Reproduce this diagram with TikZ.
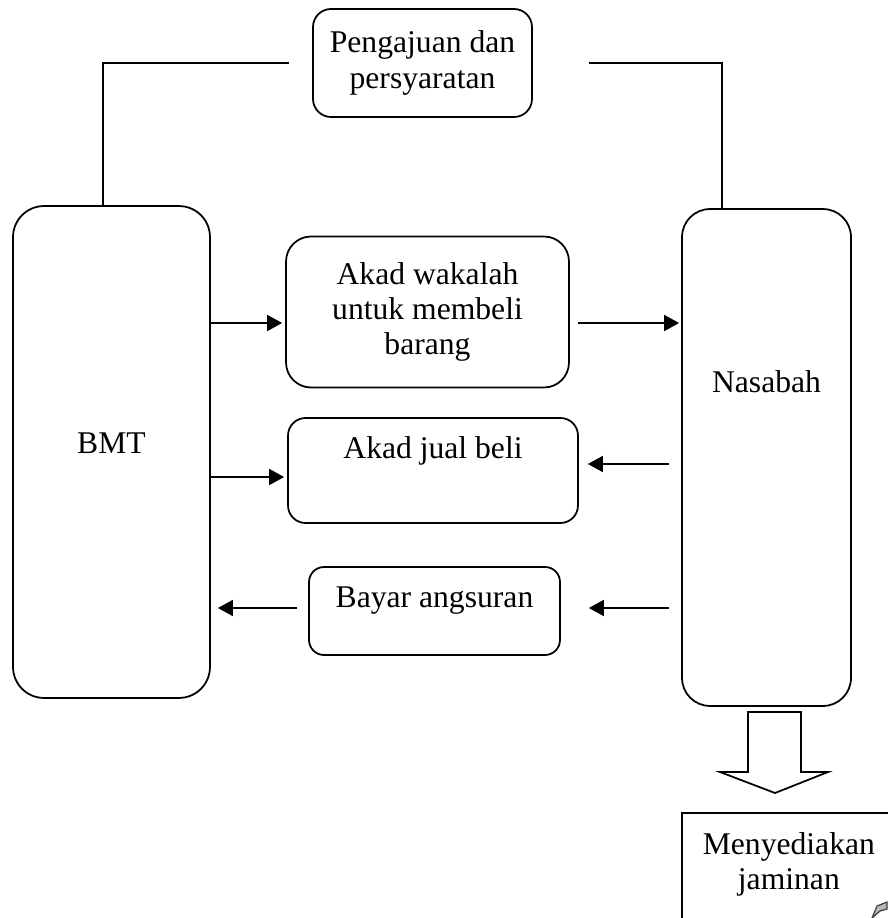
\documentclass[tikz,border=0pt]{standalone}
\usepackage{fontspec}
\setmainfont{Liberation Serif}
\usepackage{tikz}
\usetikzlibrary{arrows.meta,positioning,calc}

\begin{document}
\begin{tikzpicture}[
  x=0.02cm, y=-0.02cm,
  box/.style={draw,line width=1pt,rounded corners=#1,inner sep=0pt,
    font=\fontsize{18}{20}\selectfont,align=center},
  box/.default=0.4cm,
  txt/.style={font=\fontsize{18}{20}\selectfont,align=center,anchor=center},
  flow/.style={-{Triangle[length=0.3cm,width=0.32cm]},line width=1pt},
  link/.style={line width=1pt}
]
\useasboundingbox (0,0) rectangle (887,918);

% parties
\node[box=0.62cm,minimum width=3.94cm,minimum height=9.84cm,
  label={[txt,yshift=-4.76cm]north:BMT}] (bmt) at (111.5,452) {};
\node[box=0.56cm,minimum width=3.38cm,minimum height=9.94cm,
  label={[txt,yshift=-3.48cm]north:Nasabah}] (nasabah) at (766.5,457.5) {};

% steps
\node[box=0.36cm,minimum width=4.38cm,minimum height=2.16cm] (peng) at (422.5,63)
  {Pengajuan dan\\persyaratan};
\node[box=0.5cm,minimum width=5.66cm,minimum height=3.02cm] (wakalah) at (427.5,312)
  {Akad wakalah\\untuk membeli\\barang};
\node[box=0.35cm,minimum width=5.8cm,minimum height=2.1cm,
  label={[txt,yshift=-0.68cm]north:Akad jual beli}] (jual) at (433,470.5) {};
\node[box=0.3cm,minimum width=5.02cm,minimum height=1.76cm,
  label={[txt,yshift=-0.68cm]north:Bayar angsuran}] (bayar) at (434.5,611) {};
\node[box=0pt,anchor=north west,minimum width=4.28cm,minimum height=3cm,
  label={[txt,yshift=-1.04cm]north:Menyediakan\\jaminan}] (jaminan) at (681,812) {};

% connections
\draw[link] ([xshift=-0.46cm]peng.west) -| (103,0 |- bmt.north);
\draw[link] ([xshift=1.12cm]peng.east) -| (722,0 |- nasabah.north);

\draw[flow,shorten >=0.06cm] (bmt.east |- 0,323) -- (wakalah.west |- 0,323);
\draw[flow,shorten <=0.16cm,shorten >=0.04cm] (wakalah.east |- 0,323) -- (nasabah.west |- 0,323);
\draw[flow,shorten >=0.06cm] (bmt.east |- 0,477) -- (jual.west |- 0,477);
\draw[flow,shorten <=0.24cm,shorten >=0.18cm] (nasabah.west |- 0,464) -- (jual.east |- 0,464);
\draw[flow,shorten <=0.22cm,shorten >=0.14cm] (bayar.west |- 0,608) -- (bmt.east |- 0,608);
\draw[flow,shorten <=0.24cm,shorten >=0.56cm] (nasabah.west |- 0,608) -- (bayar.east |- 0,608);

% block arrow down
\draw[line width=1pt,fill=white] (748,712) -- (801,712) -- (801,772) -- (828,772)
  -- (775,793) -- (720,772) -- (748,772) -- cycle;

\filldraw[fill=gray!55,draw=black!75,line width=0.7pt] (872,918) -- (877,906)
  -- (887,902) -- (887,909) -- (880,911) -- cycle;
\end{tikzpicture}
\end{document}
